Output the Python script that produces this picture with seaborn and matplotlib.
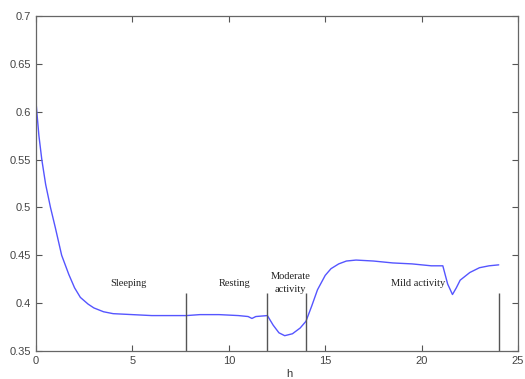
import pandas as pd
import seaborn as sns
import numpy as np
import matplotlib.pyplot as plt

# curve (hour of day vs value)
hours = [0.0, 0.05, 0.15, 0.3, 0.5, 0.75, 1.0, 1.33, 1.7, 2.0, 2.3, 2.7, 3.0, 3.5,
         4.0, 5.0, 6.0, 7.0, 7.8, 8.5, 9.5, 10.5, 11.0, 11.2, 11.4, 12.0, 12.3,
         12.6, 12.9, 13.3, 13.7, 14.0, 14.3, 14.6, 15.0, 15.3, 15.7, 16.1, 16.6,
         17.5, 18.5, 19.5, 20.5, 21.1, 21.35, 21.6, 21.8, 22.0, 22.5, 23.0, 23.5, 24.0]
values = [0.610, 0.598, 0.575, 0.550, 0.524, 0.500, 0.479, 0.450, 0.430, 0.416,
          0.406, 0.399, 0.395, 0.391, 0.389, 0.388, 0.387, 0.387, 0.387, 0.388,
          0.388, 0.387, 0.386, 0.384, 0.386, 0.387, 0.377, 0.369, 0.366, 0.368,
          0.374, 0.381, 0.397, 0.414, 0.429, 0.436, 0.441, 0.444, 0.445, 0.444,
          0.442, 0.441, 0.439, 0.439, 0.420, 0.409, 0.416, 0.424, 0.432, 0.437,
          0.439, 0.440]

# activity boundaries and labels
bounds = [7.8, 12.0, 14.0, 24.0]
bound_top = 0.411
phases = ["Sleeping", "Resting", "Moderate\nactivity", "Mild activity"]
phase_x = [4.77, 10.3, 13.2, 19.8]
phase_y = [0.421, 0.421, 0.421, 0.421]

df = pd.DataFrame({"h": hours, "value": values})

sns.set_style("white")
plt.rcParams["font.family"] = ["Liberation Sans", "DejaVu Sans"]

fig = plt.figure(figsize=(5.25, 3.79), dpi=100)
ax = fig.add_axes([0.0686, 0.0739, 0.9181, 0.8839])

sns.lineplot(data=df, x="h", y="value", ax=ax, color="#5555ff", linewidth=1.0, sort=False)
ax.vlines(bounds, 0.35, bound_top, color="#555555", linewidth=1.0)

for lab, x, y in zip(phases, phase_x, phase_y):
    ax.text(x, y, lab, ha="center", va="center", fontsize=7.5,
            family="Liberation Serif", color="#222222", linespacing=1.45)

ax.set_xlim(0, 25)
ax.set_ylim(0.35, 0.7)
ax.set_xticks([0, 5, 10, 15, 20, 25])
ax.set_yticks([0.35, 0.4, 0.45, 0.5, 0.55, 0.6, 0.65, 0.7])
ax.set_yticklabels(["0.35", "0.4", "0.45", "0.5", "0.55", "0.6", "0.65", "0.7"])
ax.tick_params(direction="in", length=4, width=0.8, color="#555555",
               labelcolor="#444444", labelsize=8, bottom=True, left=True,
               top=True, right=True, labeltop=False, labelright=False)
for s in ax.spines.values():
    s.set_color("#666666")
    s.set_linewidth(0.9)
ax.set_xlabel("h", fontsize=8, color="#333333")
ax.xaxis.set_label_coords(0.525, -0.055)
ax.set_ylabel("")

plt.savefig("out.png", dpi=100)
